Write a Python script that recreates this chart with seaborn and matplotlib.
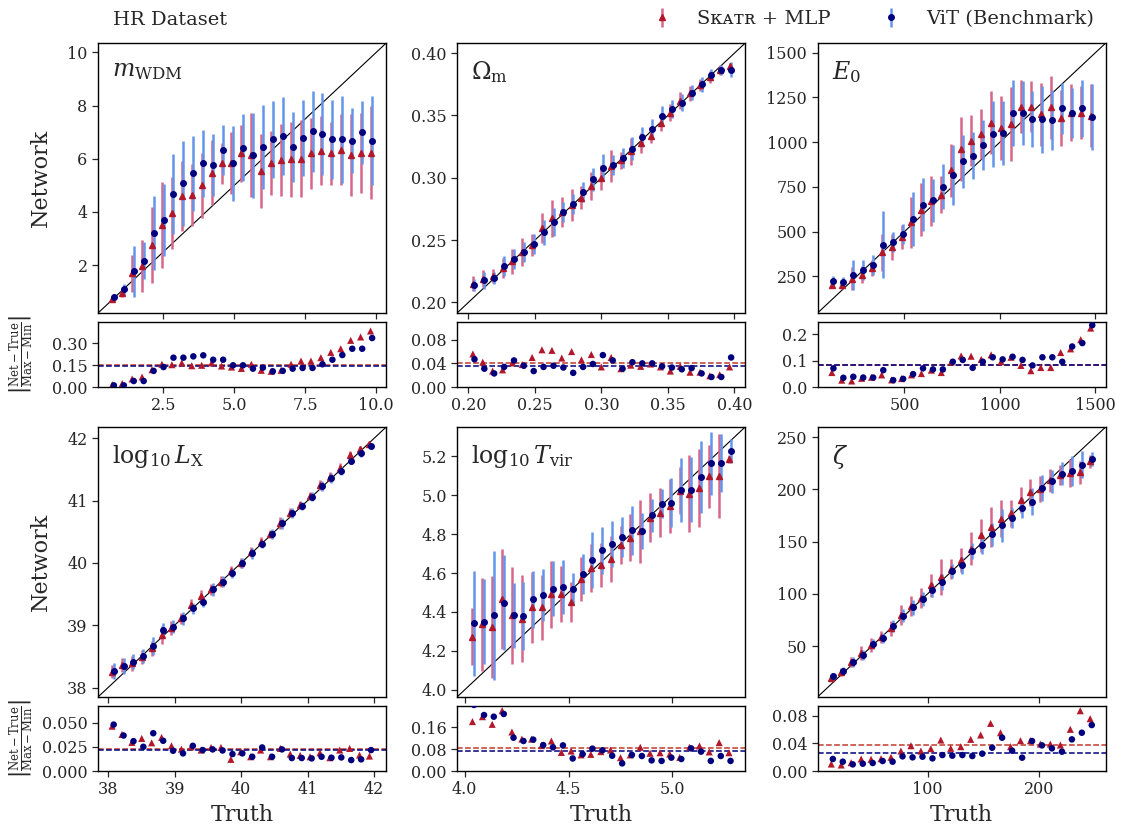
import numpy as np
import matplotlib
matplotlib.use("Agg")
import matplotlib.pyplot as plt
from matplotlib.ticker import FormatStrFormatter
import seaborn as sns

# --- dados ---
# m_WDM
mwdm_truth = [0.73, 1.08, 1.43, 1.78, 2.13, 2.48, 2.83, 3.18, 3.53, 3.88, 4.23, 4.58, 4.93, 5.28,
              5.63, 5.98, 6.33, 6.68, 7.03, 7.38, 7.73, 8.08, 8.43, 8.78, 9.13, 9.48, 9.83]
mwdm_skatr = [0.71, 0.94, 1.69, 1.97, 2.76, 3.51, 3.97, 4.60, 4.64, 5.01, 5.48, 5.83, 5.83, 6.20,
              6.14, 5.54, 5.83, 5.95, 5.98, 6.00, 6.20, 6.30, 6.20, 6.35, 6.14, 6.23, 6.23]
mwdm_skatr_err = [0.10, 0.12, 0.70, 0.97, 1.43, 1.63, 1.35, 1.30, 1.16, 1.22, 1.23, 0.78, 1.16, 1.08,
                  1.58, 1.40, 1.20, 1.35, 1.40, 1.45, 1.35, 1.30, 1.20, 1.35, 1.55, 1.50, 1.75]
mwdm_vit = [0.81, 1.09, 1.77, 2.17, 3.20, 3.70, 4.67, 5.08, 5.45, 5.83, 5.77, 6.33, 5.83, 6.42,
            6.14, 6.45, 6.73, 6.86, 6.45, 6.79, 7.04, 6.93, 6.73, 6.73, 6.68, 6.99, 6.68]
mwdm_vit_err = [0.12, 0.20, 0.95, 0.70, 1.39, 1.36, 1.50, 1.60, 1.40, 1.25, 1.15, 0.95, 1.40, 1.25,
                1.60, 1.58, 1.44, 1.46, 1.32, 1.44, 1.52, 1.55, 1.50, 1.63, 1.22, 1.17, 1.67]
mwdm_res_skatr = [0.016, 0.023, 0.055, 0.068, 0.118, 0.155, 0.152, 0.164, 0.145, 0.148, 0.164, 0.143, 0.136, 0.127,
                  0.155, 0.114, 0.107, 0.114, 0.155, 0.177, 0.177, 0.200, 0.236, 0.261, 0.318, 0.341, 0.382]
mwdm_res_vit = [0.011, 0.011, 0.041, 0.041, 0.110, 0.136, 0.200, 0.200, 0.209, 0.216, 0.186, 0.186, 0.148, 0.148,
                0.125, 0.132, 0.107, 0.110, 0.125, 0.130, 0.130, 0.155, 0.186, 0.218, 0.261, 0.261, 0.334]
mwdm_mean = [0.152, 0.145]

# Omega_m
om_truth = [0.2040, 0.2114, 0.2188, 0.2263, 0.2337, 0.2411, 0.2485, 0.2559, 0.2634, 0.2708, 0.2782, 0.2856, 0.2930, 0.3005,
            0.3079, 0.3153, 0.3227, 0.3301, 0.3376, 0.3450, 0.3524, 0.3598, 0.3672, 0.3747, 0.3821, 0.3895, 0.3969]
om_skatr = [0.2151, 0.2191, 0.2212, 0.2276, 0.2329, 0.2403, 0.2462, 0.2594, 0.2674, 0.2722, 0.2780, 0.2841, 0.2934, 0.3000,
            0.3093, 0.3140, 0.3212, 0.3279, 0.3337, 0.3438, 0.3522, 0.3618, 0.3677, 0.3743, 0.3809, 0.3862, 0.3894]
om_skatr_err = [0.006, 0.007, 0.006, 0.008, 0.010, 0.011, 0.009, 0.012, 0.015, 0.012, 0.013, 0.009, 0.011, 0.010,
                0.013, 0.007, 0.011, 0.008, 0.006, 0.006, 0.007, 0.007, 0.006, 0.005, 0.005, 0.004, 0.003]
om_vit = [0.2138, 0.2177, 0.2197, 0.2292, 0.2350, 0.2408, 0.2470, 0.2563, 0.2647, 0.2727, 0.2788, 0.2886, 0.2987, 0.3082,
          0.3106, 0.3160, 0.3234, 0.3327, 0.3390, 0.3496, 0.3550, 0.3602, 0.3682, 0.3751, 0.3823, 0.3862, 0.3868]
om_vit_err = [0.005, 0.007, 0.005, 0.008, 0.008, 0.008, 0.008, 0.010, 0.011, 0.008, 0.008, 0.008, 0.009, 0.011,
              0.008, 0.008, 0.009, 0.008, 0.008, 0.008, 0.007, 0.007, 0.006, 0.006, 0.005, 0.004, 0.006]
om_res_skatr = [0.056, 0.042, 0.027, 0.029, 0.041, 0.038, 0.050, 0.063, 0.062, 0.049, 0.060, 0.046, 0.055, 0.034,
                0.050, 0.031, 0.037, 0.035, 0.039, 0.034, 0.027, 0.035, 0.025, 0.025, 0.019, 0.021, 0.034]
om_res_vit = [0.047, 0.031, 0.023, 0.034, 0.045, 0.036, 0.027, 0.034, 0.036, 0.033, 0.024, 0.034, 0.039, 0.054,
              0.045, 0.031, 0.042, 0.040, 0.040, 0.035, 0.033, 0.030, 0.032, 0.023, 0.017, 0.017, 0.050]
om_mean = [0.0405, 0.0354]

# E_0
e0_truth = [124, 176, 228, 280, 332, 385, 437, 489, 541, 593, 645, 697, 749, 801,
            853, 906, 958, 1010, 1062, 1114, 1166, 1218, 1270, 1322, 1374, 1427, 1479]
e0_skatr = [204, 204, 236, 260, 297, 384, 414, 470, 551, 622, 669, 706, 842, 961,
            1009, 1045, 1109, 1078, 1102, 1199, 1199, 1156, 1195, 1134, 1165, 1165, 1147]
e0_skatr_err = [19, 22, 65, 47, 47, 102, 74, 65, 140, 149, 140, 102, 149, 177,
                140, 140, 177, 177, 205, 149, 140, 177, 177, 158, 158, 149, 177]
e0_vit = [222, 219, 260, 287, 314, 427, 442, 488, 570, 650, 674, 752, 818, 892,
          924, 985, 1046, 1050, 1162, 1162, 1128, 1128, 1124, 1188, 1162, 1188, 1140]
e0_vit_err = [28, 28, 84, 56, 56, 186, 56, 56, 149, 149, 121, 126, 167, 149,
              130, 140, 186, 177, 186, 177, 158, 186, 167, 140, 140, 158, 186]
e0_res_skatr = [0.055, 0.026, 0.023, 0.033, 0.037, 0.046, 0.027, 0.032, 0.046, 0.051, 0.064, 0.055, 0.095, 0.118,
                0.117, 0.105, 0.122, 0.096, 0.113, 0.082, 0.062, 0.074, 0.074, 0.131, 0.145, 0.180, 0.224]
e0_res_vit = [0.071, 0.035, 0.039, 0.036, 0.036, 0.064, 0.026, 0.031, 0.049, 0.071, 0.067, 0.067, 0.096, 0.103,
              0.073, 0.096, 0.113, 0.105, 0.115, 0.103, 0.082, 0.113, 0.113, 0.096, 0.154, 0.167, 0.235]
e0_mean = [0.085, 0.084]

# log10 L_X
lx_truth = [38.073, 38.222, 38.371, 38.519, 38.668, 38.817, 38.966, 39.115, 39.263, 39.412, 39.561, 39.710, 39.859, 40.007,
            40.156, 40.305, 40.454, 40.603, 40.751, 40.900, 41.049, 41.198, 41.347, 41.495, 41.644, 41.793, 41.942]
lx_skatr = [38.255, 38.363, 38.390, 38.486, 38.631, 38.844, 38.961, 39.112, 39.325, 39.469, 39.577, 39.699, 39.875, 40.004,
            40.180, 40.340, 40.464, 40.645, 40.806, 40.929, 41.073, 41.250, 41.373, 41.518, 41.731, 41.822, 41.907]
lx_skatr_err = [0.10, 0.12, 0.12, 0.11, 0.12, 0.14, 0.11, 0.09, 0.10, 0.10, 0.09, 0.09, 0.08, 0.08,
                0.08, 0.07, 0.07, 0.10, 0.07, 0.07, 0.07, 0.08, 0.08, 0.08, 0.07, 0.06, 0.03]
lx_vit = [38.272, 38.347, 38.416, 38.507, 38.668, 38.924, 38.977, 39.112, 39.272, 39.378, 39.577, 39.699, 39.834, 39.994,
          40.154, 40.303, 40.464, 40.635, 40.796, 40.913, 41.062, 41.234, 41.357, 41.479, 41.640, 41.758, 41.875]
lx_vit_err = [0.13, 0.13, 0.12, 0.12, 0.14, 0.12, 0.10, 0.10, 0.09, 0.09, 0.10, 0.09, 0.08, 0.08,
              0.09, 0.07, 0.08, 0.09, 0.08, 0.07, 0.07, 0.08, 0.08, 0.07, 0.06, 0.06, 0.04]
lx_res_skatr = [0.0462, 0.0377, 0.0295, 0.0336, 0.0291, 0.0346, 0.0260, 0.0226, 0.0250, 0.0216, 0.0243, 0.0243, 0.0120, 0.0199,
                0.0147, 0.0216, 0.0147, 0.0233, 0.0175, 0.0161, 0.0147, 0.0188, 0.0137, 0.0216, 0.0233, 0.0164, 0.0154]
lx_res_vit = [0.0479, 0.0366, 0.0308, 0.0250, 0.0390, 0.0312, 0.0209, 0.0182, 0.0260, 0.0216, 0.0223, 0.0212, 0.0175, 0.0182,
              0.0147, 0.0243, 0.0147, 0.0223, 0.0134, 0.0134, 0.0130, 0.0147, 0.0137, 0.0140, 0.0113, 0.0120, 0.0216]
lx_mean = [0.0230, 0.0212]

# log10 T_vir
tvir_truth = [4.041, 4.089, 4.136, 4.184, 4.231, 4.279, 4.326, 4.374, 4.421, 4.469, 4.516, 4.564, 4.611, 4.659,
              4.706, 4.754, 4.801, 4.849, 4.896, 4.944, 4.991, 5.039, 5.086, 5.134, 5.181, 5.229, 5.276]
tvir_skatr = [4.272, 4.337, 4.323, 4.465, 4.383, 4.366, 4.423, 4.423, 4.491, 4.491, 4.451, 4.568, 4.624, 4.641,
              4.670, 4.744, 4.782, 4.815, 4.884, 4.910, 4.944, 5.024, 5.007, 5.038, 5.097, 5.097, 5.187]
tvir_skatr_err = [0.147, 0.239, 0.262, 0.258, 0.248, 0.224, 0.183, 0.168, 0.173, 0.144, 0.103, 0.113, 0.123, 0.113,
                  0.118, 0.097, 0.120, 0.161, 0.126, 0.125, 0.140, 0.123, 0.198, 0.200, 0.162, 0.215, 0.020]
tvir_vit = [4.342, 4.349, 4.383, 4.448, 4.383, 4.379, 4.465, 4.486, 4.520, 4.528, 4.520, 4.597, 4.665, 4.716,
            4.747, 4.785, 4.819, 4.815, 4.897, 4.956, 4.961, 5.026, 5.029, 5.092, 5.163, 5.166, 5.229]
tvir_vit_err = [0.270, 0.219, 0.332, 0.244, 0.168, 0.174, 0.147, 0.135, 0.142, 0.137, 0.082, 0.103, 0.144, 0.120,
                0.118, 0.101, 0.126, 0.094, 0.085, 0.074, 0.126, 0.164, 0.169, 0.185, 0.162, 0.150, 0.062]
tvir_res_skatr = [0.181, 0.199, 0.171, 0.221, 0.143, 0.117, 0.117, 0.093, 0.110, 0.068, 0.073, 0.059, 0.061, 0.071,
                  0.077, 0.049, 0.059, 0.087, 0.065, 0.067, 0.062, 0.050, 0.087, 0.092, 0.070, 0.104, 0.067]
tvir_res_vit = [0.242, 0.205, 0.199, 0.209, 0.122, 0.110, 0.115, 0.095, 0.087, 0.094, 0.046, 0.062, 0.082, 0.076,
                0.056, 0.028, 0.059, 0.055, 0.039, 0.037, 0.049, 0.044, 0.083, 0.071, 0.037, 0.055, 0.037]
tvir_mean = [0.085, 0.072]

# zeta
zeta_truth = [14.5, 23.4, 32.3, 41.3, 50.2, 59.1, 68.0, 76.9, 85.9, 94.8, 103.7, 112.6, 121.5, 130.5,
              139.4, 148.3, 157.2, 166.1, 175.1, 184.0, 192.9, 201.8, 210.7, 219.7, 228.6, 237.5, 246.4]
zeta_skatr = [19.5, 25.2, 35.3, 43.6, 51.2, 58.6, 67.1, 79.8, 88.7, 95.7, 108.4, 116.3, 123.6, 132.5,
              143.3, 156.0, 163.9, 171.9, 177.0, 189.6, 197.2, 200.5, 208.7, 214.1, 215.7, 216.3, 226.8]
zeta_skatr_err = [3.2, 3.8, 4.8, 6.3, 6.3, 5.7, 7.0, 9.5, 9.5, 9.5, 11.1, 17.5, 9.5, 11.1,
                  15.9, 15.9, 19.0, 17.5, 12.7, 12.7, 12.7, 12.7, 11.1, 9.5, 13.3, 11.1, 6.3]
zeta_vit = [21.4, 26.8, 35.3, 41.7, 52.2, 57.6, 69.0, 79.1, 87.1, 95.0, 103.9, 111.5, 122.0, 127.4,
            141.0, 146.5, 157.0, 165.5, 172.9, 182.4, 188.1, 201.4, 207.7, 215.0, 217.9, 223.6, 229.0]
zeta_vit_err = [3.2, 3.8, 4.8, 4.8, 4.8, 4.8, 5.7, 6.3, 7.0, 7.0, 7.0, 7.9, 7.0, 7.9,
                7.9, 7.9, 11.1, 15.9, 9.5, 9.5, 12.7, 12.7, 11.1, 11.1, 14.3, 12.7, 7.0]
zeta_res_skatr = [0.0101, 0.0087, 0.0121, 0.0174, 0.0169, 0.0178, 0.0198, 0.0289, 0.0366, 0.0289, 0.0323, 0.0448, 0.0328, 0.0352,
                  0.0458, 0.0521, 0.0689, 0.0554, 0.0352, 0.0439, 0.0439, 0.0390, 0.0390, 0.0376, 0.0603, 0.0872, 0.0757]
zeta_res_vit = [0.0174, 0.0135, 0.0096, 0.0106, 0.0116, 0.0145, 0.0135, 0.0212, 0.0198, 0.0207, 0.0183, 0.0231, 0.0222, 0.0231,
                0.0217, 0.0251, 0.0337, 0.0482, 0.0294, 0.0193, 0.0434, 0.0371, 0.0328, 0.0280, 0.0458, 0.0554, 0.0665]
zeta_mean = [0.0371, 0.0255]

panel_labels = [r'$m_{\rm WDM}$', r'$\Omega_{\rm m}$', r'$E_0$',
                r'$\log_{10}L_{\rm X}$', r'$\log_{10}T_{\rm vir}$', r'$\zeta$']

# --- configuracao dos paineis ---
panels = [
    dict(t=mwdm_truth, s=mwdm_skatr, se=mwdm_skatr_err, v=mwdm_vit, ve=mwdm_vit_err,
         rs=mwdm_res_skatr, rv=mwdm_res_vit, m=mwdm_mean, lim=(0.2, 10.35),
         yt=[2, 4, 6, 8, 10], yf='%d', xt=[2.5, 5.0, 7.5, 10.0], xf='%.1f',
         rlim=0.443, rt=[0.0, 0.15, 0.30], rf='%.2f'),
    dict(t=om_truth, s=om_skatr, se=om_skatr_err, v=om_vit, ve=om_vit_err,
         rs=om_res_skatr, rv=om_res_vit, m=om_mean, lim=(0.1915, 0.408),
         yt=[0.20, 0.25, 0.30, 0.35, 0.40], yf='%.2f', xt=[0.20, 0.25, 0.30, 0.35, 0.40], xf='%.2f',
         rlim=0.11, rt=[0.0, 0.04, 0.08], rf='%.2f'),
    dict(t=e0_truth, s=e0_skatr, se=e0_skatr_err, v=e0_vit, ve=e0_vit_err,
         rs=e0_res_skatr, rv=e0_res_vit, m=e0_mean, lim=(45, 1553),
         yt=[250, 500, 750, 1000, 1250, 1500], yf='%d', xt=[500, 1000, 1500], xf='%d',
         rlim=0.247, rt=[0.0, 0.1, 0.2], rf='%.1f'),
    dict(t=lx_truth, s=lx_skatr, se=lx_skatr_err, v=lx_vit, ve=lx_vit_err,
         rs=lx_res_skatr, rv=lx_res_vit, m=lx_mean, lim=(37.85, 42.18),
         yt=[38, 39, 40, 41, 42], yf='%d', xt=[38, 39, 40, 41, 42], xf='%d',
         rlim=0.067, rt=[0.0, 0.025, 0.050], rf='%.3f'),
    dict(t=tvir_truth, s=tvir_skatr, se=tvir_skatr_err, v=tvir_vit, ve=tvir_vit_err,
         rs=tvir_res_skatr, rv=tvir_res_vit, m=tvir_mean, lim=(3.963, 5.35),
         yt=[4.0, 4.2, 4.4, 4.6, 4.8, 5.0, 5.2], yf='%.1f', xt=[4.0, 4.5, 5.0], xf='%.1f',
         rlim=0.238, rt=[0.0, 0.08, 0.16], rf='%.2f'),
    dict(t=zeta_truth, s=zeta_skatr, se=zeta_skatr_err, v=zeta_vit, ve=zeta_vit_err,
         rs=zeta_res_skatr, rv=zeta_res_vit, m=zeta_mean, lim=(1.5, 259.5),
         yt=[50, 100, 150, 200, 250], yf='%d', xt=[100, 200], xf='%d',
         rlim=0.094, rt=[0.0, 0.04, 0.08], rf='%.2f'),
]

sns.set_style("ticks")
plt.rcParams['font.family'] = ['DejaVu Serif', 'DejaVu Sans']
plt.rcParams['mathtext.fontset'] = 'dejavuserif'

c_tri = '#b2182b'
c_tri_bar = '#d8668a'
c_dot = '#00007f'
c_dot_bar = '#6495ed'

fig = plt.figure(figsize=(11.23, 8.33), dpi=100)

lefts = [0.0873, 0.407, 0.728]
w = 0.2565
main_bottoms = [0.6242, 0.1633]
res_bottoms = [0.5354, 0.0744]
h_main = 0.324
h_res = 0.078

handles = None
for i, p in enumerate(panels):
    row, col = divmod(i, 3)
    ax = fig.add_axes([lefts[col], main_bottoms[row], w, h_main])
    axr = fig.add_axes([lefts[col], res_bottoms[row], w, h_res])
    axr.sharex(ax)

    t = np.array(p['t'], dtype=float)
    dx = 0.08 * (t[1] - t[0])

    ax.plot(p['lim'], p['lim'], color='black', lw=0.8, zorder=1)
    e1 = ax.errorbar(t - dx, p['s'], yerr=p['se'], fmt='^', color=c_tri, ms=5,
                     ecolor=c_tri_bar, elinewidth=1.8, zorder=3)
    e2 = ax.errorbar(t + dx, p['v'], yerr=p['ve'], fmt='o', color=c_dot, ms=4,
                     ecolor=c_dot_bar, elinewidth=1.8, zorder=3)
    if handles is None:
        handles = [e1, e2]
    ax.set_xlim(p['lim'])
    ax.set_ylim(p['lim'])
    ax.set_yticks(p['yt'])
    ax.yaxis.set_major_formatter(FormatStrFormatter(p['yf']))
    ax.tick_params(axis='x', labelbottom=False)
    ax.text(0.05, 0.94, panel_labels[i], transform=ax.transAxes, fontsize=17,
            ha='left', va='top')

    sns.scatterplot(x=t - dx, y=p['rs'], ax=axr, marker='^', color=c_tri, s=26,
                    edgecolor='none', zorder=3)
    sns.scatterplot(x=t + dx, y=p['rv'], ax=axr, marker='o', color=c_dot, s=22,
                    edgecolor='none', zorder=3)
    axr.axhline(p['m'][0], color='#c0392b', ls='--', lw=1.1, zorder=2)
    axr.axhline(p['m'][1], color=c_dot, ls='--', lw=1.1, zorder=2)
    axr.set_ylim(0, p['rlim'])
    axr.set_yticks(p['rt'])
    axr.yaxis.set_major_formatter(FormatStrFormatter(p['rf']))
    axr.set_xticks(p['xt'])
    axr.xaxis.set_major_formatter(FormatStrFormatter(p['xf']))
    axr.set_xlim(p['lim'])

    for a in (ax, axr):
        a.tick_params(direction='out', length=4, width=0.9, labelsize=11.5)
        for sp in a.spines.values():
            sp.set_linewidth(1.0)
            sp.set_color('black')

    if col == 0:
        ax.set_ylabel('Network', fontsize=16)
        ax.yaxis.set_label_coords(-0.16, 0.5)
        axr.set_ylabel(r'$\left|\frac{\rm Net-True}{\rm Max-Min}\right|$', fontsize=12)
        axr.yaxis.set_label_coords(-0.215, 0.5)
    if row == 1:
        axr.set_xlabel('Truth', fontsize=16)

fig.text(0.101, 0.976, 'HR Dataset', fontsize=14, ha='left', va='center')
fig.legend(handles, ['S\u1d0b\u1d00\u1d1b\u0280 + MLP', 'ViT (Benchmark)'],
           loc='center right', bbox_to_anchor=(0.99, 0.977), ncol=2, frameon=False,
           fontsize=14, handlelength=1.2, columnspacing=2.5, handletextpad=1.2)

fig.savefig('out.png', dpi=100)
